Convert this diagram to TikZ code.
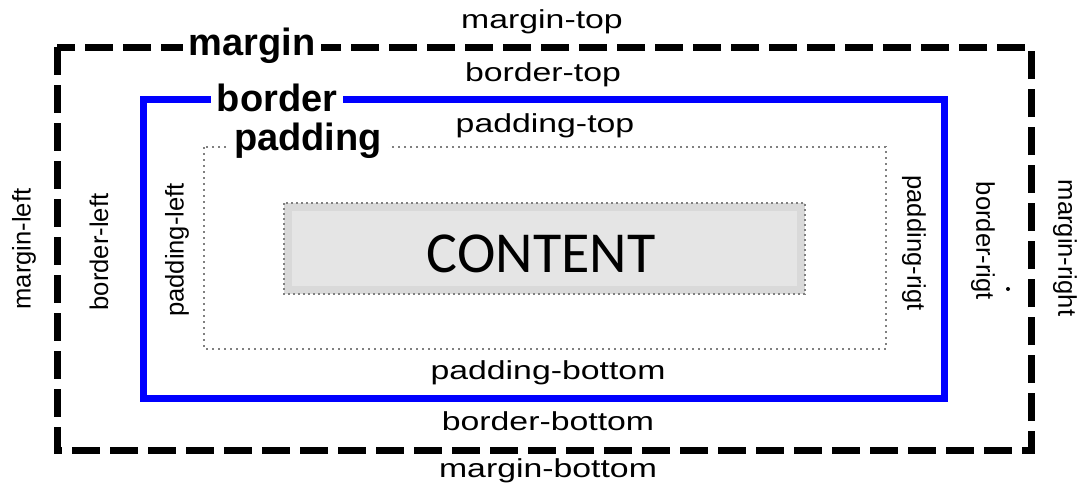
\documentclass[tikz,border=0pt]{standalone}
\usepackage{fontspec}
\setmainfont{Liberation Sans}
\newfontfamily\widefont[FakeStretch=1.3]{Liberation Sans}
\newfontfamily\contentfont{Carlito}
\tikzset{
	flatlbl/.style={font=\widefont\fontsize{13}{15}\selectfont, inner sep=0pt},
	uplbl/.style={font=\fontsize{12.8}{15}\selectfont, inner sep=0pt, rotate=90},
	downlbl/.style={font=\fontsize{12.8}{15}\selectfont, inner sep=0pt, rotate=-90},
	boxlbl/.style={font=\bfseries\fontsize{19}{22}\selectfont, fill=white, inner sep=3pt}
}
\begin{document}
\begin{tikzpicture}[x=0.5pt,y=-0.5pt]
				\useasboundingbox (0,0) rectangle (1087,487);
				% Margin
				\draw[line width=3.5pt, dash pattern=on 14pt off 5pt] (57,47) rectangle (1031,450);
				\node[boxlbl] (margin) at (252,45.5) {margin};
				% Border
				\draw[blue, line width=3.5pt] (143.5,99.5) rectangle (944,398);
				\node[boxlbl] (border) at (277,98) {border};
				% Padding
				\draw[gray, line width=0.6pt, dash pattern=on 1pt off 2pt] (204,147) rectangle (886,349);
				\node[boxlbl] (padding) at (308,141) {padding};
				% Content
				\draw[fill=black!15, draw=gray, line width=0.6pt, dash pattern=on 1pt off 1.5pt] (284,203) rectangle (805,294);
				\fill[black!10] (292,211) rectangle (797,286);
				\node[font=\contentfont\fontsize{29}{32}\selectfont] (content) at (541,254) {CONTENT};
				% Labels top and bottom
				\node[flatlbl] (mtop) at (542,22) {margin-top};
				\node[flatlbl] (btop) at (543,75) {border-top};
				\node[flatlbl] (ptop) at (545,126) {padding-top};
				\node[flatlbl] (pbot) at (548,373) {padding-bottom};
				\node[flatlbl] (bbot) at (548,421) {border-bottom};
				\node[flatlbl] (mbot) at (548,471) {margin-bottom};
				% Labels left and right
				\node[uplbl] (mleft) at (24,249) {margin-left};
				\node[uplbl] (bleft) at (99,252) {border-left};
				\node[uplbl] (pleft) at (177,250) {padding-left};
				\node[downlbl] (pright) at (914,243) {padding-rigt};
				\node[downlbl] (bright) at (983,241) {border-rigt};
				\node[downlbl] (mright) at (1065,248) {margin-right};
				\fill (1008,289) circle (1pt);
\end{tikzpicture}
\end{document}
